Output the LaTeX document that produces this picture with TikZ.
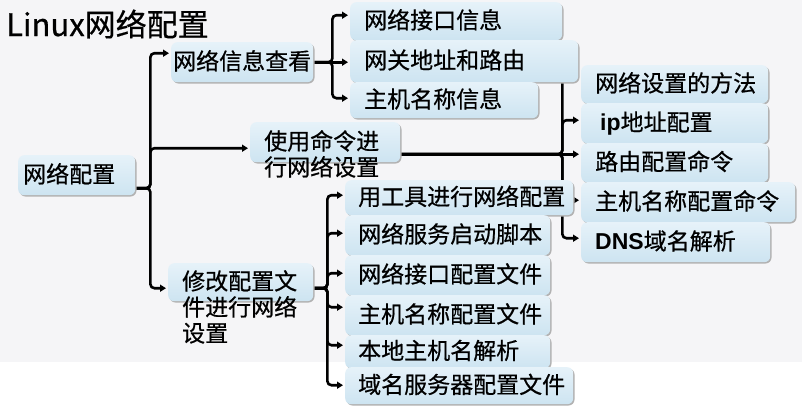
\documentclass[tikz,border=0pt]{standalone}
\usepackage{fontspec}
\setmainfont{Noto Sans CJK SC}[FakeBold=0.6]
\newfontfamily\latin{Liberation Sans}
\usetikzlibrary{arrows.meta,shadows,backgrounds}

\definecolor{boxtop}{HTML}{E6F2F9}
\definecolor{boxbot}{HTML}{CDE4F1}
\definecolor{paper}{HTML}{F5F5F7}

\tikzset{
    topic/.style={anchor=north west, rounded corners=6pt,
        top color=boxtop, bottom color=boxbot,
        inner xsep=14pt, inner ysep=0pt, align=left,
        text height=19pt, text depth=4pt,
        font=\fontsize{23}{26}\selectfont,
        drop shadow={shadow xshift=1.3pt, shadow yshift=-1.3pt, fill=black!30, opacity=1}},
    link/.style={line width=2.6pt, rounded corners=4pt,
        -{Triangle[length=6pt,width=7pt]}, shorten >=2pt},
}

\begin{document}
\begin{tikzpicture}[x=1pt, y=-1pt]
\useasboundingbox (0,0) rectangle (802,408);

\node[anchor=west, inner sep=0pt, font=\fontsize{31}{31}\selectfont] (title) at (6,24) {Linux网络配置};

% root and first level
\node[topic, inner xsep=5pt, text width=107pt, minimum height=40pt] (root) at (18,155) {网络配置};
\node[topic, inner xsep=2pt, text width=138pt, minimum height=40pt] (info) at (171,42) {网络信息查看};
\node[topic, text width=122pt, minimum height=40pt] (cmd) at (250,122) {使用命令进\\行网络设置};
\node[topic, text width=117pt, minimum height=38pt] (conf) at (168,263) {修改配置文\\件进行网络\\设置};

% information
\node[topic, text width=184pt, minimum height=38pt] (iface) at (350,2) {网络接口信息};
\node[topic, text width=200pt, minimum height=42pt] (gateway) at (350,40) {网关地址和路由};
\node[topic, text width=160pt, minimum height=36pt] (hostinfo) at (350,82) {主机名称信息};

% commands
\node[topic, text width=159pt, minimum height=38pt] (method) at (581,65) {网络设置的方法};
\node[topic, text width=159pt, minimum height=40pt] (ipconf) at (581,103) {\hspace{5pt}{\latin\bfseries ip}地址配置};
\node[topic, text width=159pt, minimum height=39pt] (route) at (581,143) {路由配置命令};
\node[topic, text width=186pt, minimum height=40pt] (hostcmd) at (581,182) {主机名称配置命令};
\node[topic, text width=161pt, minimum height=40pt] (dns) at (581,222) {{\latin\bfseries DNS}域名解析};

% files
\node[topic, inner xsep=13pt, text width=202pt, minimum height=35pt] (tool) at (345,180) {用工具进行网络配置};
\node[topic, inner xsep=13pt, text width=179pt, minimum height=40pt] (script) at (345,215) {网络服务启动脚本};
\node[topic, inner xsep=13pt, text width=179pt, minimum height=40pt] (ifcfg) at (345,255) {网络接口配置文件};
\node[topic, inner xsep=13pt, text width=179pt, minimum height=40pt] (hostfile) at (345,295) {主机名称配置文件};
\node[topic, inner xsep=13pt, text width=179pt, minimum height=33pt] (hosts) at (345,335) {本地主机名解析};
\node[topic, inner xsep=13pt, text width=202pt, minimum height=37pt] (dnsfile) at (345,367) {域名服务器配置文件};

\begin{pgfonlayer}{background}
\fill[paper] (0,0) rectangle (802,362);
\fill[white] (0,362) rectangle (802,408);

\draw[link] ([yshift=-13pt]root.east) -- ++(15,0) |- ([yshift=9pt]info.west);
\draw[link] ([yshift=-13pt]root.east) -- ++(15,0) |- ([yshift=-6pt]cmd.west);
\draw[link] ([yshift=-13pt]root.east) -- ++(15,0) |- ([yshift=-6pt]conf.west);

\draw[link] (info.east) -- ++(19,0) |- ([yshift=6pt]iface.west);
\draw[link] (info.east) -- ([yshift=-1pt]gateway.west);
\draw[link] (info.east) -- ++(19,0) |- ([yshift=2pt]hostinfo.west);

\draw[link] ([yshift=-12pt]cmd.east) -- ++(162,0) |- ([yshift=7pt]method.west);
\draw[link] ([yshift=-12pt]cmd.east) -- ++(162,0) |- ([yshift=3pt]ipconf.west);
\draw[link] ([yshift=-12pt]cmd.east) -- ([yshift=8.5pt]route.west);
\draw[link] ([yshift=-12pt]cmd.east) -- ++(162,0) |- ([yshift=2pt]hostcmd.west);
\draw[link] ([yshift=-12pt]cmd.east) -- ++(162,0) |- ([yshift=4pt]dns.west);

\draw[link] ([yshift=-6pt]conf.east) -- ++(14,0) |- ([yshift=2.5pt]tool.west);
\draw[link] ([yshift=-6pt]conf.east) -- ++(14,0) |- ([yshift=2pt]script.west);
\draw[link] ([yshift=-6pt]conf.east) -- ++(14,0) |- ([yshift=2pt]ifcfg.west);
\draw[link] ([yshift=-6pt]conf.east) -- ++(14,0) |- ([yshift=8pt]hostfile.west);
\draw[link] ([yshift=-6pt]conf.east) -- ++(14,0) |- ([yshift=6.5pt]hosts.west);
\draw[link] ([yshift=-6pt]conf.east) -- ++(14,0) |- ([yshift=0.5pt]dnsfile.west);
\end{pgfonlayer}
\end{tikzpicture}
\end{document}
